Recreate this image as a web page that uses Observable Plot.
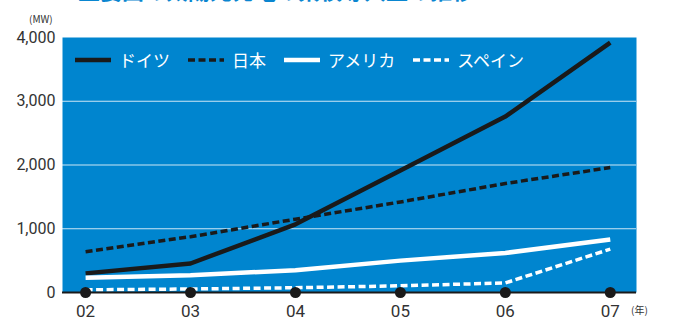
<!DOCTYPE html>
<html>
<head>
<meta charset="utf-8">
<script src="https://cdn.jsdelivr.net/npm/d3@7"></script>
<script src="https://cdn.jsdelivr.net/npm/@observablehq/plot@0.6"></script>
<style>
  html, body { margin: 0; padding: 0; background: #fff; overflow: hidden; }
  #wrap { position: relative; width: 685px; height: 320px; overflow: hidden; }
  #title { position: absolute; left: 78px; top: -27px; font: bold 22px "Noto Sans CJK JP", sans-serif; color: #0a86d0; white-space: nowrap; }
  #unit { position: absolute; left: 29px; top: 11px; font: 10px "Noto Sans CJK JP", sans-serif; color: #333; }
  #year { position: absolute; left: 631px; top: 302px; font: 10px "Noto Sans CJK JP", sans-serif; color: #333; }
  #legend { position: absolute; left: 74px; top: 47px; display: flex; align-items: center; font: 400 17px "Noto Sans CJK JP", sans-serif; color: #fff; }
  #legend .item { display: flex; align-items: center; margin-right: 17px; }
  #legend svg { margin-right: 7px; }
</style>
</head>
<body>
<div id="wrap">
  <div id="title">主要国の太陽光発電の累積導入量の推移</div>
  <div id="unit">(MW)</div>
  <div id="year">(年)</div>
  <div id="chart"></div>
  <div id="legend"></div>
</div>
<script>
// Cumulative installed capacity (MW) by year
const years = [2002, 2003, 2004, 2005, 2006, 2007];
const germany = [300, 455, 1070, 1915, 2760, 3920];
const japan = [640, 875, 1150, 1420, 1710, 1960];
const usa = [230, 270, 350, 500, 620, 830];
const spain = [42, 55, 75, 105, 150, 680];
const seriesNames = ["ドイツ", "日本", "アメリカ", "スペイン"];
const yTicks = [0, 1000, 2000, 3000, 4000];

const seriesValues = [germany, japan, usa, spain];
const styles = [
  {stroke: "#1a1a1a", dash: null, width: 4.5},
  {stroke: "#1a1a1a", dash: "7,3.5", width: 3.5},
  {stroke: "#ffffff", dash: null, width: 4.5},
  {stroke: "#ffffff", dash: "7,3.5", width: 3.5}
];

const rows = seriesNames.flatMap((name, i) =>
  years.map((year, j) => ({name, year, value: seriesValues[i][j]}))
);

const blue = "#0085cf";
const thousands = d3.format(",");

const plot = Plot.plot({
  width: 685,
  height: 320,
  marginTop: 37,
  marginBottom: 28,
  marginLeft: 62,
  marginRight: 49,
  style: {fontFamily: "Roboto, sans-serif", color: "#333", background: "transparent"},
  x: {domain: [2001.78, 2007.25]},
  y: {domain: [0, 4000]},
  marks: [
    Plot.frame({fill: blue, stroke: null}),
    Plot.ruleY([1000, 2000, 3000], {stroke: "#ffffff", strokeOpacity: 0.8, strokeWidth: 1}),
    Plot.axisY({ticks: yTicks, tickFormat: d => thousands(d), tickSize: 0, tickPadding: 7, fontSize: 16, label: null}),
    Plot.axisX({ticks: years, tickFormat: d => String(d).slice(2), tickSize: 0, tickPadding: 12, fontSize: 17, label: null}),
    ...seriesNames.map((name, i) =>
      Plot.line(rows.filter(r => r.name === name), {
        x: "year", y: "value",
        stroke: styles[i].stroke,
        strokeWidth: styles[i].width,
        strokeDasharray: styles[i].dash,
        strokeLinecap: "butt",
        strokeLinejoin: "round"
      })
    ),
    Plot.ruleY([0], {stroke: "#1a1a1a", strokeWidth: 2}),
    Plot.dot(years, {x: d => d, y: () => 0, r: 5.5, fill: "#1a1a1a", stroke: null})
  ]
});
document.getElementById("chart").appendChild(plot);

// Legend inside the plot area
const legend = document.getElementById("legend");
seriesNames.forEach((name, i) => {
  const item = document.createElement("div");
  item.className = "item";
  const s = styles[i];
  item.innerHTML = `<svg width="38" height="10"><line x1="1" y1="5" x2="37" y2="5" stroke="${s.stroke}" stroke-width="${s.width}" ${s.dash ? `stroke-dasharray="${s.dash}"` : ""}/></svg><span>${name}</span>`;
  legend.appendChild(item);
});
</script>
</body>
</html>
